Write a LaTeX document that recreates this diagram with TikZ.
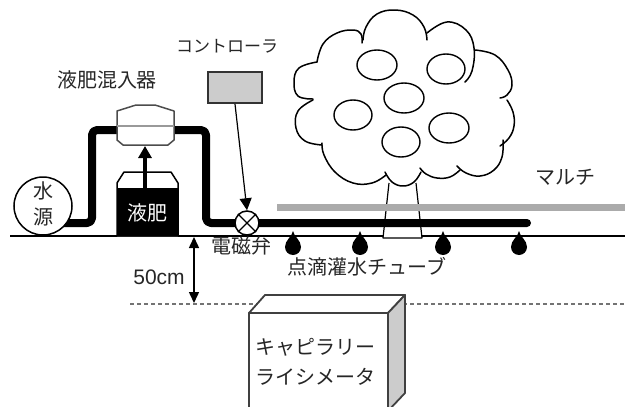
\documentclass[tikz,border=0pt]{standalone}
\usepackage{fontspec}
\setmainfont{Noto Sans CJK JP}
\newfontfamily\latinfont{Liberation Sans}
\usetikzlibrary{arrows.meta}
\begin{document}
\begin{tikzpicture}[x=1pt,y=1pt,
  outline/.style={line width=1.5pt, draw=black},
  bump/.style={line width=1.5pt, line join=round, line cap=round},
  pipe/.style={line width=8pt, line join=round, line cap=round, rounded corners=5pt},
  lbl/.style={font=\fontsize{20}{20}\selectfont, text=black!85, inner sep=0pt},
  fruit/.style={line width=1.4pt},
  boxline/.style={draw=black!75, line width=1.8pt, line join=round},
]
\useasboundingbox (0,0) rectangle (625,-407);
\clip (0,0) rectangle (625,-407);

% depth line and ground surface
\draw[black!55, line width=1.5pt, dash pattern=on 4pt off 3pt]
  (130,-304) coordinate (depthL) -- (625,-304) coordinate (depthR);
\draw[line width=1.5pt] (10,-236) coordinate (groundL) -- (625,-236) coordinate (groundR);

% tree trunk
\draw[line width=1.2pt, fill=white, line join=round] (389,-183) -- (383,-238) -- (422,-238) -- (416,-183);

% tree crown, one bump at a time
\draw[bump] plot[smooth, tension=0.7] coordinates {(317,-62) (323,-44) (337,-33) (353,-30) (361,-34) (362,-43)};
\draw[bump] plot[smooth, tension=0.7] coordinates {(363,-40) (366,-27) (377,-14) (395,-10) (413,-15) (424,-27) (427,-40)};
\draw[bump] plot[smooth, tension=0.7] coordinates {(427,-33) (447,-22) (466,-30) (474,-48) (472,-71) (465,-82)};
\draw[bump] plot[smooth, tension=0.7] coordinates {(475,-50) (495,-55) (508,-70) (512,-85) (507,-95) (500,-98)};
\draw[bump] plot[smooth, tension=0.7] coordinates {(507,-100) (513,-112) (514,-126) (509,-138) (500,-146)};
\draw[bump] plot[smooth, tension=0.7] coordinates {(503,-140) (502,-157) (494,-170) (480,-176) (466,-173) (457,-166)};
\draw[bump] plot[smooth, tension=0.7] coordinates {(460,-170) (450,-177) (437,-178) (426,-174) (420,-168)};
\draw[bump] plot[smooth, tension=0.7] coordinates {(421,-172) (414,-182) (403,-186) (392,-182) (385,-172)};
\draw[bump] plot[smooth, tension=0.7] coordinates {(386,-175) (372,-183) (353,-183) (335,-172) (324,-155) (322,-143)};
\draw[bump] plot[smooth, tension=0.7] coordinates {(322,-145) (305,-141) (296,-128) (298,-111) (313,-100)};
\draw[bump] plot[smooth, tension=0.7] coordinates {(313,-99) (298,-96) (294,-82) (299,-68) (317,-62)};

% fruits
\draw[fruit] (377,-65) ellipse[x radius=20, y radius=15];
\draw[fruit] (446,-69) ellipse[x radius=19, y radius=15];
\draw[fruit] (404,-98) ellipse[x radius=20, y radius=15];
\draw[fruit] (353,-115) ellipse[x radius=19, y radius=15];
\draw[fruit] (449,-128) ellipse[x radius=20, y radius=15];
\draw[fruit] (401,-142) ellipse[x radius=19, y radius=15];

% mulch sheet
\draw[line width=7pt, black!33] (277,-207) coordinate (mulchL) -- (625,-207) coordinate (mulchR);

% water pipe and drip tube
\coordinate (pipeStart) at (60,-223);
\coordinate (vc) at (247,-223);
\coordinate (tubeEnd) at (527,-223);
\draw[pipe] (pipeStart) -- (92,-223) -- (92,-130) -- (206,-130) -- (206,-223) -- (vc) -- (tubeEnd);

% water source
\node[outline, circle, fill=white, minimum size=58pt, inner sep=0pt] (water) at (43,-206) {};
\node[lbl] (waterA) at (43,-191) {水};
\node[lbl] (waterB) at (43,-217) {源};

% fertilizer mixer
\draw[draw=black!70, line width=1.5pt, fill=white, line join=round]
  (117,-111) -- (136,-105) -- (155,-105) -- (174,-111) -- (174,-140) -- (168,-145)
  -- (123,-145) -- (117,-140) -- cycle;
\draw[black!40, line width=2.5pt] (117,-126) -- (174,-126);
\coordinate (mixerBottom) at (145,-146);
\node[lbl] (mixerName) at (107,-80) {液肥混入器};

% fertilizer tank
\draw[outline, fill=white, line join=round]
  (117,-236) -- (117,-183) -- (124,-172) -- (171,-172) -- (178,-183) -- (178,-236);
\fill (117,-188) rectangle (178,-236);
\coordinate (tankTop) at (145,-189);
\node[lbl, text=white] (tankName) at (147.5,-213) {液肥};
\draw[line width=4pt, -{Triangle[width=13pt,length=12pt]}] (tankTop) -- (mixerBottom);

% controller and solenoid valve
\node[draw=black!80, line width=2pt, fill=black!20, minimum width=54pt, minimum height=31pt,
  inner sep=0pt] (ctrl) at (235,-87.5) {};
\node[font=\fontsize{17}{17}\selectfont, text=black!85, inner sep=0pt] (ctrlName) at (227,-46) {コントローラ};
\node[circle, draw, line width=1.5pt, fill=white, minimum size=24pt, inner sep=0pt] (valve) at (vc) {};
\draw[line width=1.3pt] (valve.north west) -- (valve.south east) (valve.north east) -- (valve.south west);
\draw[line width=1.2pt, -{Triangle[width=12pt,length=12pt]}] (ctrl.south) -- (valve.north);
\node[lbl] (valveName) at (241,-246) {電磁弁};

% emitters on the drip tube
\foreach \dx in {293,360,443,519}{
  \fill (\dx,-231) .. controls (\dx+1,-237) and (\dx+8,-240) .. (\dx+8,-247)
    arc[start angle=0, end angle=-180, radius=8]
    .. controls (\dx-8,-240) and (\dx-1,-237) .. cycle;
}
\node[lbl] (tubeName) at (367,-267) {点滴灌水チューブ};
\node[lbl] (mulchName) at (565,-177) {マルチ};

% depth dimension
\coordinate (dimTop) at (194,-237);
\coordinate (dimBot) at (194,-303);
\draw[line width=1.5pt, {Triangle[width=10pt,length=11pt]}-{Triangle[width=10pt,length=11pt]}] (dimTop) -- (dimBot);
\node[font=\latinfont\fontsize{21}{21}\selectfont, text=black!85, inner sep=0pt] (depth) at (159,-277) {50cm};

% capillary lysimeter
\filldraw[boxline, fill=white] (249,-313) -- (265,-295) -- (405,-295) -- (388,-313) -- cycle;
\filldraw[boxline, fill=black!20] (388,-313) -- (405,-295) -- (405,-393) -- (388,-411) -- cycle;
\filldraw[boxline, fill=white] (249,-313) rectangle (388,-420);
\node[lbl, anchor=west] (lysA) at (255,-347) {キャピラリー};
\node[lbl, anchor=west] (lysB) at (255,-377) {ライシメータ};
\end{tikzpicture}
\end{document}
